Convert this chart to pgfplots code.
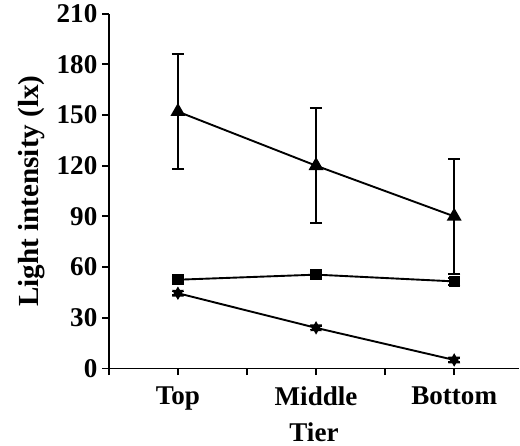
\documentclass[border=0pt]{standalone}
\usepackage{fontspec}
\setmainfont{Liberation Serif}
\usepackage{pgfplots}
\pgfplotsset{compat=1.18}
\usetikzlibrary{plotmarks}
% filled six-pointed star mark
\pgfdeclareplotmark{sixstar}{%
  \pgfpathmoveto{\pgfqpointpolar{90}{\pgfplotmarksize}}%
  \pgfpathlineto{\pgfqpointpolar{210}{\pgfplotmarksize}}%
  \pgfpathlineto{\pgfqpointpolar{330}{\pgfplotmarksize}}%
  \pgfpathclose
  \pgfpathmoveto{\pgfqpointpolar{270}{\pgfplotmarksize}}%
  \pgfpathlineto{\pgfqpointpolar{30}{\pgfplotmarksize}}%
  \pgfpathlineto{\pgfqpointpolar{150}{\pgfplotmarksize}}%
  \pgfpathclose
  \pgfusepathqfill}
\begin{document}
\begin{tikzpicture}[font=\bfseries\fontsize{20}{22}\selectfont]
\begin{axis}[
  scale only axis,
  width=303pt, height=262pt,
  xmin=0.5, xmax=3.47,
  ymin=0, ymax=210,
  axis x line*=bottom, axis y line*=left,
  axis line style={line width=1.3pt},
  xtick={0.5,1,1.5,2,2.5,3},
  xticklabels={,Top,,Middle,,Bottom},
  ytick={0,30,...,210},
  tick align=outside,
  tick style={line width=1.3pt, black},
  major tick length=5pt,
  /pgf/number format/assume math mode=true,
  ticklabel style={font=\bfseries\fontsize{20}{22}\selectfont},
  xticklabel style={yshift=-5pt},
  xlabel={Tier}, ylabel={Light intensity (lx)},
  xlabel style={yshift=-2pt},
  ylabel style={yshift=2pt, font=\bfseries\fontsize{21.5}{23}\selectfont},
  every axis plot/.append style={black, line width=1.4pt},
  error bars/y dir=both, error bars/y explicit,
  error bars/error mark options={rotate=90, black, mark size=4.5pt, line width=1.4pt},
  error bars/error bar style={line width=1.4pt},
  clip=false,
]
% triangles
\addplot[mark=triangle*, mark size=5pt, mark options={solid}]
  coordinates {(1,152) +- (0,34) (2,120) +- (0,34) (3,90) +- (0,34)};
% squares
\addplot[mark=square*, mark size=3.5pt, mark options={solid}]
  coordinates {(1,52.5) +- (0,1.5) (2,55.5) +- (0,1.5) (3,51.5) +- (0,2)};
% stars
\addplot[mark=sixstar, mark size=5pt, mark options={solid}]
  coordinates {(1,44.5) +- (0,1) (2,24) +- (0,1) (3,5) +- (0,1)};
\end{axis}
\path ([xshift=-10pt]current bounding box.west);
\end{tikzpicture}
\end{document}
